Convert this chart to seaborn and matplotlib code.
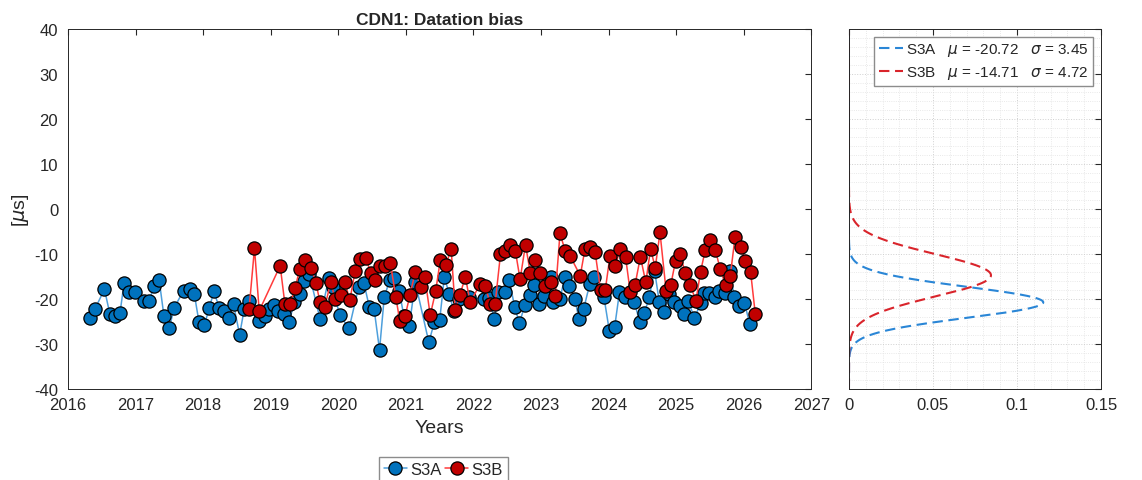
import matplotlib
matplotlib.use("Agg")
import matplotlib.pyplot as plt
import seaborn as sns
import pandas as pd
import numpy as np
from matplotlib.ticker import MultipleLocator

sns.set_style("white")
plt.rcParams['font.family'] = ['Liberation Sans', 'DejaVu Sans']
plt.rcParams['mathtext.fontset'] = 'dejavusans'
plt.rcParams['axes.unicode_minus'] = False

# Datation bias per cycle (decimal years, microseconds)
s3a_year = [2016.32, 2016.40, 2016.54, 2016.62, 2016.70, 2016.77, 2016.83, 2016.91, 2016.99,
            2017.13, 2017.20, 2017.28, 2017.35, 2017.42, 2017.50, 2017.57, 2017.71, 2017.81,
            2017.87, 2017.94, 2018.02, 2018.09, 2018.16, 2018.24, 2018.31, 2018.39, 2018.45,
            2018.54, 2018.61, 2018.68, 2018.83, 2018.91, 2018.97, 2019.05, 2019.11, 2019.20,
            2019.27, 2019.35, 2019.43, 2019.49, 2019.57, 2019.73, 2019.86, 2019.92, 2020.02,
            2020.16, 2020.30, 2020.38, 2020.46, 2020.53, 2020.61, 2020.68, 2020.76, 2020.83,
            2020.90, 2020.97, 2021.05, 2021.14, 2021.34, 2021.42, 2021.50, 2021.57, 2021.64,
            2021.71, 2021.79, 2021.93, 2022.15, 2022.23, 2022.31, 2022.37, 2022.46, 2022.53,
            2022.61, 2022.68, 2022.76, 2022.83, 2022.90, 2022.97, 2023.05, 2023.14, 2023.18,
            2023.28, 2023.35, 2023.42, 2023.50, 2023.56, 2023.63, 2023.72, 2023.79, 2023.93,
            2024.01, 2024.09, 2024.16, 2024.24, 2024.38, 2024.46, 2024.53, 2024.60, 2024.68,
            2024.75, 2024.82, 2024.90, 2024.97, 2025.05, 2025.12, 2025.18, 2025.27, 2025.36,
            2025.41, 2025.49, 2025.57, 2025.64, 2025.72, 2025.79, 2025.86, 2025.93, 2026.01,
            2026.09]
s3a_bias = [-24.3, -22.2, -17.8, -23.3, -23.7, -23.1, -16.5, -18.5, -18.5,
            -20.4, -20.4, -17.0, -15.8, -23.7, -26.4, -22.0, -18.1, -17.8,
            -18.9, -25.2, -25.7, -22.0, -18.3, -22.0, -22.6, -24.2, -21.2,
            -27.9, -22.1, -20.5, -24.8, -23.7, -22.2, -21.3, -22.6, -23.3,
            -25.2, -20.7, -18.9, -16.0, -14.4, -24.4, -15.3, -17.4, -23.6,
            -26.5, -17.4, -16.5, -21.8, -22.2, -31.3, -19.6, -15.8, -15.3,
            -18.1, -23.7, -25.9, -16.3, -29.6, -25.2, -24.7, -15.0, -18.9,
            -22.6, -20.0, -19.6, -20.0, -19.8, -24.4, -18.5, -18.4, -15.7,
            -21.8, -25.4, -21.3, -19.0, -16.9, -21.0, -19.3, -15.2, -20.7,
            -20.0, -15.2, -17.0, -20.0, -24.4, -22.2, -16.7, -15.2, -19.5,
            -27.0, -26.1, -18.5, -19.6, -20.7, -25.0, -23.2, -19.5, -13.7,
            -20.7, -22.8, -18.9, -20.7, -21.5, -23.3, -20.4, -24.3, -20.9,
            -18.7, -18.7, -19.6, -18.1, -18.7, -13.7, -19.5, -21.5, -20.9,
            -25.6]

s3b_year = [2018.68, 2018.76, 2018.83, 2019.14, 2019.21, 2019.29, 2019.36, 2019.43, 2019.51,
            2019.60, 2019.67, 2019.73, 2019.80, 2019.89, 2019.95, 2020.04, 2020.10, 2020.17,
            2020.25, 2020.32, 2020.41, 2020.48, 2020.54, 2020.62, 2020.69, 2020.77, 2020.85,
            2020.91, 2020.99, 2021.06, 2021.14, 2021.22, 2021.28, 2021.36, 2021.44, 2021.51,
            2021.59, 2021.67, 2021.73, 2021.80, 2021.88, 2021.95, 2022.10, 2022.17, 2022.25,
            2022.32, 2022.40, 2022.47, 2022.54, 2022.62, 2022.69, 2022.77, 2022.84, 2022.91,
            2022.99, 2023.06, 2023.14, 2023.21, 2023.28, 2023.36, 2023.43, 2023.58, 2023.65,
            2023.73, 2023.80, 2023.88, 2023.95, 2024.02, 2024.10, 2024.17, 2024.25, 2024.32,
            2024.39, 2024.47, 2024.55, 2024.62, 2024.69, 2024.76, 2024.85, 2024.92, 2024.99,
            2025.06, 2025.13, 2025.21, 2025.29, 2025.36, 2025.43, 2025.50, 2025.58, 2025.65,
            2025.73, 2025.80, 2025.87, 2025.96, 2026.02, 2026.10, 2026.17]
s3b_bias = [-22.2, -8.7, -22.6, -12.6, -21.1, -21.0, -17.6, -13.3, -11.3,
            -13.1, -16.5, -20.7, -21.8, -16.1, -20.0, -19.0, -16.3, -20.3,
            -13.7, -11.1, -10.9, -14.2, -15.8, -12.6, -12.6, -11.9, -19.5,
            -24.8, -23.7, -19.1, -13.9, -17.4, -15.0, -23.6, -18.3, -11.3,
            -12.4, -8.9, -22.4, -19.1, -15.0, -20.7, -16.7, -17.0, -21.1,
            -21.1, -10.0, -9.3, -8.0, -9.3, -15.6, -7.9, -14.1, -11.3,
            -14.3, -17.0, -16.3, -19.3, -5.4, -9.4, -10.4, -14.8, -8.9,
            -8.5, -9.6, -18.0, -18.0, -10.4, -12.6, -8.9, -10.6, -18.5,
            -16.9, -10.6, -16.3, -8.9, -13.0, -5.2, -18.1, -16.8, -11.5,
            -10.0, -14.1, -16.8, -20.5, -13.9, -9.1, -6.8, -9.1, -13.3,
            -16.9, -14.8, -6.3, -8.4, -11.5, -13.9, -23.3]

# fitted statistics shown in the legend of the distribution panel
s3a_mu, s3a_sigma = -20.72, 3.45
s3b_mu, s3b_sigma = -14.71, 4.72
pdf_ticks = [0, 0.05, 0.1, 0.15]
pdf_ticklabels = ['0', '0.05', '0.1', '0.15']

df_a = pd.DataFrame({'year': s3a_year, 'bias': s3a_bias})
df_b = pd.DataFrame({'year': s3b_year, 'bias': s3b_bias})

fig = plt.figure(figsize=(11.42, 4.81), dpi=100)
ax = fig.add_axes([0.0595, 0.189, 0.651, 0.7484])
ax2 = fig.add_axes([0.7434, 0.189, 0.2207, 0.7484])

mk = dict(marker='o', markersize=9.5, markeredgecolor='black', markeredgewidth=0.9)
sns.lineplot(data=df_a, x='year', y='bias', ax=ax, sort=False, color='#4d9fdc', lw=1.1,
             markerfacecolor='#0072BD', label='S3A', **mk)
sns.lineplot(data=df_b, x='year', y='bias', ax=ax, sort=False, color='#ff3b3b', lw=1.1,
             markerfacecolor='#C00000', label='S3B', **mk)

ax.set_xlim(2016, 2027)
ax.set_ylim(-40, 40)
ax.xaxis.set_major_locator(MultipleLocator(1))
ax.yaxis.set_major_locator(MultipleLocator(10))
ax.set_xlabel('Years', fontsize=14, color='#262626', labelpad=5)
ax.set_ylabel(r'[$\mu$s]', fontsize=14, color='#262626', labelpad=2)
ax.set_title('CDN1: Datation bias', fontsize=12.5, fontweight='bold', pad=4)
ax.legend(loc='upper center', bbox_to_anchor=(0.505, -0.165), ncol=2, fontsize=12,
          handlelength=1.4, handletextpad=0.2, columnspacing=0.2, borderpad=0.3,
          fancybox=False, edgecolor='#8c8c8c', framealpha=1)

# Gaussian fits on the right
yy = np.linspace(-40, 40, 801)
pdf_a = np.exp(-0.5 * ((yy - s3a_mu) / s3a_sigma) ** 2) / (s3a_sigma * np.sqrt(2 * np.pi))
pdf_b = np.exp(-0.5 * ((yy - s3b_mu) / s3b_sigma) ** 2) / (s3b_sigma * np.sqrt(2 * np.pi))
sns.lineplot(x=pdf_a, y=yy, ax=ax2, sort=False, orient='y', color='#2a86d6', lw=1.5,
             dashes=(5, 2.7), label=rf'S3A   $\mu$ = {s3a_mu:.2f}   $\sigma$ = {s3a_sigma:.2f}')
sns.lineplot(x=pdf_b, y=yy, ax=ax2, sort=False, orient='y', color='#d9242b', lw=1.5,
             dashes=(5, 2.7), label=rf'S3B   $\mu$ = {s3b_mu:.2f}   $\sigma$ = {s3b_sigma:.2f}')
ax2.set_xlim(0, 0.15)
ax2.set_ylim(-40, 40)
ax2.set_xticks(pdf_ticks)
ax2.set_xticklabels(pdf_ticklabels)
ax2.xaxis.set_minor_locator(MultipleLocator(0.01))
ax2.yaxis.set_major_locator(MultipleLocator(10))
ax2.yaxis.set_minor_locator(MultipleLocator(2))
ax2.set_yticklabels([])
ax2.set_xlabel('')
ax2.set_ylabel('')
ax2.grid(which='major', color='#d0d0d0', lw=0.7, ls=':')
ax2.grid(which='minor', color='#e2e2e2', lw=0.6, ls=':')
ax2.legend(loc='upper right', fontsize=11, handlelength=1.6, handletextpad=0.2,
           borderpad=0.3, labelspacing=0.4, borderaxespad=0.5,
           fancybox=False, edgecolor='#8c8c8c', framealpha=1)

for a in (ax, ax2):
    for s in a.spines.values():
        s.set_color('#262626')
        s.set_linewidth(0.7)
    a.tick_params(which='both', direction='in', top=True, right=True,
                  labelsize=12, colors='#262626', length=4)
    a.tick_params(which='minor', length=0)
    a.tick_params(axis='x', pad=6)
    a.tick_params(axis='y', pad=7)

fig.savefig('out.png', dpi=100)
